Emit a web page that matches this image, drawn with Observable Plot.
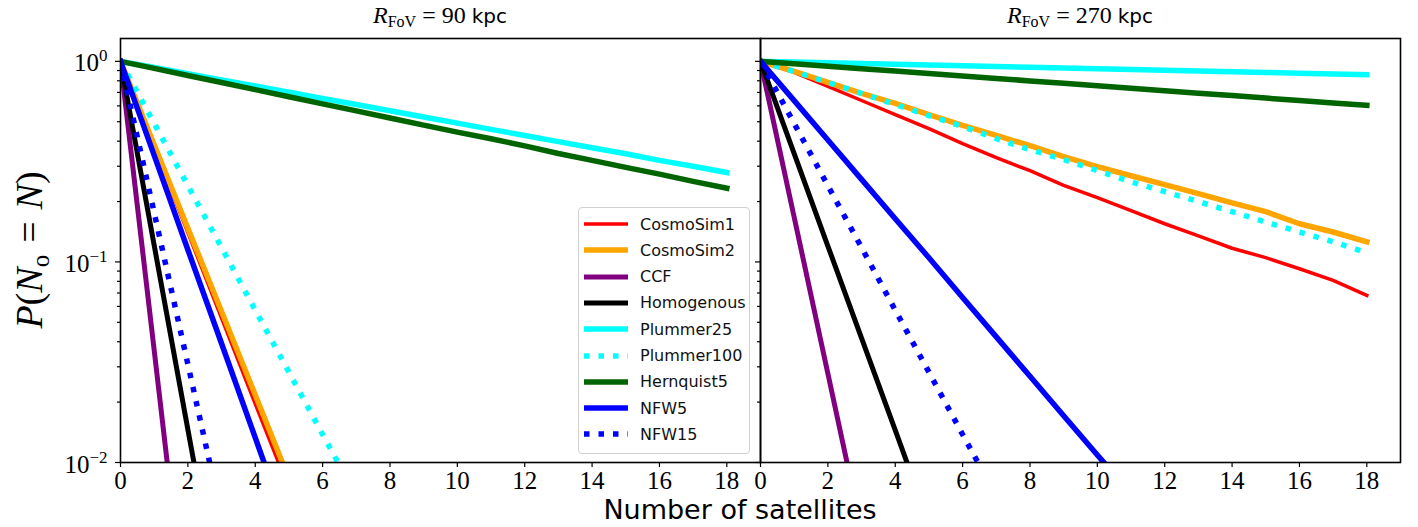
<!DOCTYPE html>
<html><head><meta charset="utf-8">
<script src="https://cdn.jsdelivr.net/npm/d3@7"></script>
<script src="https://cdn.jsdelivr.net/npm/@observablehq/plot@0.6"></script>
<style>
body{margin:0;background:#fff;}
#wrap{position:relative;width:1418px;height:527px;overflow:hidden;background:#fff;}
.abs{position:absolute;}
.serif{font-family:'Liberation Serif',serif;}
.sans{font-family:'DejaVu Sans',sans-serif;}
.title{position:absolute;text-align:center;white-space:nowrap;}
.legend{position:absolute;left:578px;top:207px;width:170px;height:245px;border:1px solid #d0d0d0;border-radius:4px;background:rgba(255,255,255,0.85);}
.lrow{position:absolute;left:0;height:20px;display:flex;align-items:center;}
.lrow svg{margin-left:5px;}
.lrow span{margin-left:12px;font-family:'DejaVu Sans',sans-serif;font-size:16px;color:#111;}
</style></head><body><div id="wrap"></div>
<script>
// ---------- data ----------
const nValues = [0,1,2,3,4,5,6,7,8,9,10,11,12,13,14,15,16,17,18];
const seriesNames = ["CosmoSim1","CosmoSim2","CCF","Homogenous","Plummer25","Plummer100","Hernquist5","NFW5","NFW15"];
const panelTitles = ["90","270"];
const xTicks = [0,2,4,6,8,10,12,14,16,18];
const yMajorTicks = [0.01,0.1,1];
const yMajorLabels = ["−2","−1","0"];
const yMinorTicks = [0.02,0.03,0.04,0.05,0.06,0.07,0.08,0.09,0.2,0.3,0.4,0.5,0.6,0.7,0.8,0.9];

// R_FoV = 90 kpc
const r90_CosmoSim1  = [1, 0.374, 0.140, 0.0525, 0.0196, 0.0074];
const r90_CosmoSim2  = [1, 0.384, 0.147, 0.0566, 0.0217, 0.0083];
const r90_CCF        = [1, 0.0363, 0.0013];
const r90_Homogenous = [1, 0.121, 0.0146, 0.0018];
const r90_Plummer25  = [1, 0.932, 0.868, 0.808, 0.753, 0.701, 0.653, 0.609, 0.567, 0.528, 0.492, 0.458, 0.427, 0.398, 0.371, 0.346, 0.321, 0.300, 0.279];
const r90_Plummer100 = [1, 0.490, 0.240, 0.118, 0.0575, 0.0282, 0.0138, 0.0068];
const r90_Hernquist5 = [1, 0.922, 0.850, 0.784, 0.723, 0.666, 0.614, 0.566, 0.522, 0.481, 0.444, 0.411, 0.379, 0.347, 0.321, 0.296, 0.274, 0.252, 0.233];
const r90_NFW5       = [1, 0.340, 0.115, 0.0392, 0.0133, 0.0045];
const r90_NFW15      = [1, 0.176, 0.0309, 0.0054];

// R_FoV = 270 kpc
const r270_CosmoSim1  = [1, 0.881, 0.750, 0.638, 0.543, 0.462, 0.389, 0.331, 0.285, 0.241, 0.209, 0.180, 0.155, 0.135, 0.117, 0.105, 0.0925, 0.0809, 0.0681];
const r270_CosmoSim2  = [1, 0.891, 0.785, 0.692, 0.617, 0.543, 0.479, 0.427, 0.380, 0.335, 0.299, 0.269, 0.243, 0.219, 0.197, 0.178, 0.155, 0.141, 0.126];
const r270_CCF        = [1, 0.167, 0.0278, 0.0046];
const r270_Homogenous = [1, 0.347, 0.120, 0.0417, 0.0145, 0.0050];
const r270_Plummer25  = [1, 0.992, 0.983, 0.975, 0.966, 0.958, 0.950, 0.942, 0.934, 0.926, 0.918, 0.911, 0.903, 0.895, 0.888, 0.881, 0.873, 0.866, 0.859];
const r270_Plummer100 = [1, 0.891, 0.785, 0.692, 0.610, 0.537, 0.473, 0.412, 0.363, 0.324, 0.285, 0.251, 0.224, 0.200, 0.178, 0.158, 0.141, 0.126, 0.111];
const r270_Hernquist5 = [1, 0.972, 0.945, 0.919, 0.894, 0.869, 0.845, 0.822, 0.799, 0.777, 0.755, 0.734, 0.714, 0.694, 0.675, 0.656, 0.638, 0.620, 0.603];
const r270_NFW5       = [1, 0.637, 0.405, 0.258, 0.164, 0.105, 0.0664, 0.0423, 0.0269, 0.0171, 0.0109, 0.0070];
const r270_NFW15      = [1, 0.490, 0.240, 0.118, 0.0575, 0.0282, 0.0138, 0.0068];

const panelData = [
  {CosmoSim1:r90_CosmoSim1, CosmoSim2:r90_CosmoSim2, CCF:r90_CCF, Homogenous:r90_Homogenous, Plummer25:r90_Plummer25, Plummer100:r90_Plummer100, Hernquist5:r90_Hernquist5, NFW5:r90_NFW5, NFW15:r90_NFW15},
  {CosmoSim1:r270_CosmoSim1, CosmoSim2:r270_CosmoSim2, CCF:r270_CCF, Homogenous:r270_Homogenous, Plummer25:r270_Plummer25, Plummer100:r270_Plummer100, Hernquist5:r270_Hernquist5, NFW5:r270_NFW5, NFW15:r270_NFW15}
];

// ---------- styles ----------
const lineStyle = {
  CosmoSim1:  {color:"#ff0000", w:3.5},
  CosmoSim2:  {color:"#ffa500", w:5.5},
  CCF:        {color:"#800080", w:5},
  Homogenous: {color:"#000000", w:5},
  Plummer25:  {color:"#00ffff", w:5.5},
  Plummer100: {color:"#00ffff", w:5.5, dash:"5.5,9"},
  Hernquist5: {color:"#006400", w:5.5},
  NFW5:       {color:"#0000ff", w:5.5},
  NFW15:      {color:"#0000ff", w:5.5, dash:"5.5,9"}
};

const wrap = document.getElementById("wrap");

function makePanel(pi) {
  const data = panelData[pi];
  const marks = [];
  for (const name of seriesNames) {
    const rows = data[name].map((p,i)=>({N:nValues[i], p}));
    const s = lineStyle[name];
    marks.push(Plot.line(rows, {x:"N", y:"p", stroke:s.color, strokeWidth:s.w,
      strokeDasharray: s.dash || null, strokeLinecap: s.dash ? "butt" : "square",
      strokeLinejoin:"round", clip:true}));
  }
  marks.push(Plot.axisY({ticks:yMinorTicks, tickSize:3, tickFormat:()=>"", label:null, strokeWidth:1.2}));
  marks.push(Plot.axisY({ticks:yMajorTicks, tickSize:5, tickPadding:8, label:null, strokeWidth:1.2,
    tickFormat: pi===0 ? (d => yMajorLabels[yMajorTicks.indexOf(d)]) : (()=>"")}));
  marks.push(Plot.axisX({ticks:xTicks, tickSize:5, tickPadding:4, label:null, strokeWidth:1.2, tickFormat:d=>String(d)}));
  marks.push(Plot.frame({stroke:"black", strokeWidth:1.6}));
  const svg = Plot.plot({
    width: pi===0 ? 760 : 720,
    height: 527,
    marginLeft: pi===0 ? 120 : 60,
    marginRight: pi===0 ? 0 : 20,
    marginTop: 38,
    marginBottom: 65,
    x: {domain:[0,19]},
    y: {type:"log", domain:[0.01,1.3]},
    style: {background:"transparent", overflow:"visible", color:"black"},
    marks
  });
  svg.style.position = "absolute";
  svg.style.left = (pi===0 ? 0 : 700) + "px";
  svg.style.top = "0px";
  // tick label fonts
  svg.querySelectorAll('g[aria-label$="tick label"]').forEach(g => {
    g.querySelectorAll("text").forEach(t => {
      t.style.fontSize = "25px";
      t.style.fontFamily = "'Liberation Serif', serif";
    });
  });
  // superscript exponents on log tick labels
  if (pi===0) {
    svg.querySelectorAll('g[aria-label="y-axis tick label"] text').forEach(t => {
      const e = t.textContent;
      if (!e) return;
      t.textContent = "";
      const base = document.createElementNS("http://www.w3.org/2000/svg","tspan");
      base.textContent = "10";
      base.setAttribute("dy","2");
      const sup = document.createElementNS("http://www.w3.org/2000/svg","tspan");
      sup.textContent = e;
      sup.setAttribute("dy","-10");
      sup.style.fontSize = "17px";
      t.appendChild(base); t.appendChild(sup);
    });
  }
  wrap.appendChild(svg);
}
makePanel(0);
makePanel(1);

// panel titles
const titleCenters = [440, 1080];
panelTitles.forEach((v,i)=>{
  const d = document.createElement("div");
  d.className = "title";
  d.style.left = (titleCenters[i]-150)+"px";
  d.style.width = "300px";
  d.style.top = "2px";
  d.innerHTML = `<span class="serif" style="font-style:italic;font-size:24px">R</span><span class="serif" style="font-size:16px;position:relative;top:4px">FoV</span><span class="serif" style="font-size:24px"> = ${v} </span><span class="sans" style="font-size:20px">kpc</span>`;
  wrap.appendChild(d);
});

// y label
const yl = document.createElement("div");
yl.className = "abs serif";
yl.style.cssText = "left:-91px;top:227px;width:240px;height:46px;line-height:46px;text-align:center;transform:rotate(-90deg);font-size:38px;white-space:nowrap;";
yl.innerHTML = `<i>P</i>(<i>N</i><span style="font-size:25px;position:relative;top:7px">o</span><span style="margin:0 12px">=</span><i>N</i>)`;
wrap.appendChild(yl);

// x label
const xl = document.createElement("div");
xl.className = "abs sans";
xl.style.cssText = "left:440px;top:494px;width:600px;text-align:center;font-size:27px;white-space:nowrap;";
xl.textContent = "Number of satellites";
wrap.appendChild(xl);

// legend
const lg = document.createElement("div");
lg.className = "legend";
seriesNames.forEach((name,i)=>{
  const s = lineStyle[name];
  const r = document.createElement("div");
  r.className = "lrow";
  r.style.top = (223 + 26.3*i - 207 - 10) + "px";
  r.innerHTML = `<svg width="44" height="12"><line x1="0" y1="6" x2="44" y2="6" stroke="${s.color}" stroke-width="${s.w}" ${s.dash?`stroke-dasharray="${s.dash}"`:""}/></svg><span>${name}</span>`;
  lg.appendChild(r);
});
wrap.appendChild(lg);
</script>
</body></html>
